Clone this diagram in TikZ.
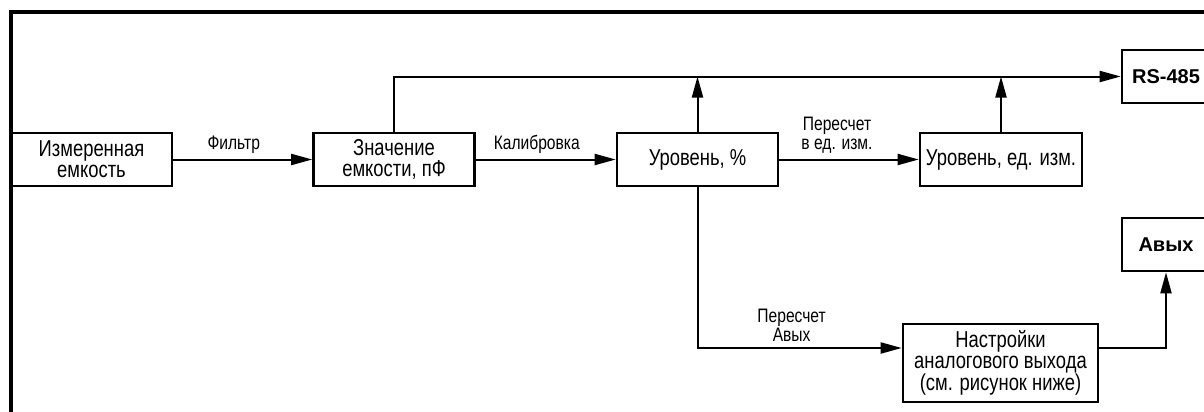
\documentclass[tikz,border=0pt]{standalone}
\usepackage{fontspec}
\setmainfont[FakeStretch=0.8]{Liberation Sans}
\newfontfamily\portfont{Liberation Sans}
\usetikzlibrary{positioning,arrows,arrows.meta}

\begin{document}
\begin{tikzpicture}[
		x=1pt, y=-1pt,
		block/.style={rectangle, draw, line width=2.6pt, minimum width=161pt, minimum height=53pt,
			inner sep=0pt, align=center, text centered, font=\fontsize{23}{21}\selectfont},
		port/.style={block, minimum width=88pt, font=\portfont\bfseries\fontsize{20}{20}\selectfont},
		lbl/.style={inner sep=0pt, align=center, font=\fontsize{19.5}{19}\selectfont},
		link/.style={line width=2pt, -{Triangle[length=21pt, width=11pt]}},
		frame/.style={line width=4.5pt}
]
\useasboundingbox (0,0) rectangle (1204,412);
\clip (0,0) rectangle (1204,412);

\draw [frame] (11,420) -- (11,12) -- (1215,12);

\node [block] (meas) at (91.5,159.5) {Измеренная\\емкость};
\node [block] (cap) at (394,159.5) {Значение\\емкости, пФ};
\node [block] (lvl) at (697.5,159.5) {Уровень, \%};
\node [block, minimum width=162pt] (unit) at (1001,159.5) {Уровень, ед. изм.};
\node [port] (rs) at (1166,76.5) {RS-485};
\node [port] (ao) at (1166,244.5) {Авых};
\node [block, minimum width=195pt, minimum height=78pt] (set) at (1000.5,363)
	{Настройки\\аналогового выхода\\(см. рисунок ниже)};

\draw [link] (meas) -- node [lbl, above=5pt, xshift=-9pt] (lfilt) {Фильтр} (cap);
\draw [link] (cap) -- node [lbl, above=5pt, xshift=-9pt] (lcal) {Калибровка} (lvl);
\draw [link] (lvl) -- node [lbl, above=5pt, xshift=-12pt] (lconv) {Пересчет\\в ед. изм.} (unit);

\draw [link] (cap.north) |- (rs.west);
\draw [link] (lvl.north) -- (lvl.north |- rs.west);
\draw [link] (unit.north) -- (unit.north |- rs.west);

\draw [link] (lvl.south) |- node [lbl, above=6pt, pos=0.75, xshift=-8pt] (lao) {Пересчет\\Авых}
	([yshift=15pt]set.west);
\draw [link] ([yshift=15pt]set.east) -| (ao.south);

\end{tikzpicture}
\end{document}
